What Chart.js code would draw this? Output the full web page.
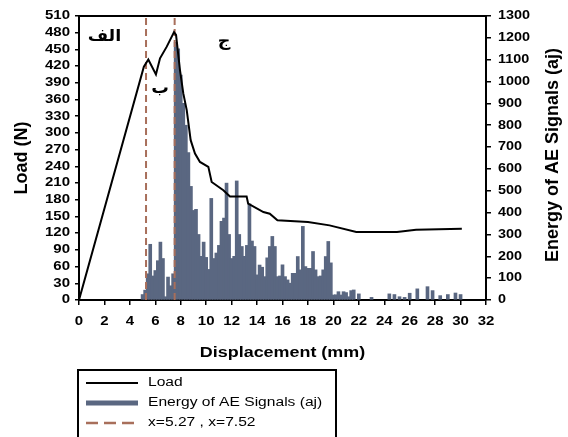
<!DOCTYPE html>
<html>
<head>
<meta charset="utf-8">
<script src="https://cdn.jsdelivr.net/npm/chart.js"></script>
<style>
  body { margin: 0; background: #fff; }
  canvas { display: block; }
</style>
</head>
<body>
<canvas id="aeChart" width="568" height="437"></canvas>

<script>
  // Load curve (displacement mm, load N)
  const loadX = [0, 5.1, 5.45, 6.05, 6.37, 6.9, 7.47, 7.63, 7.94, 8.2, 8.47, 8.78, 9.12, 9.51, 10.17, 10.43,
                 11.35, 11.87, 13.18, 13.3, 14.5, 15.0, 15.6, 18.0, 19.7, 21.8, 25.0, 26.5, 30.1];
  const loadY = [0, 419, 432, 405, 434, 455, 481, 476, 413, 371, 341, 287, 263, 248, 239, 212,
                 197, 186, 186, 173, 158, 155, 143, 140, 134, 122, 122, 126, 128];

  // Energy of AE signals (displacement mm, energy aj)
  const energyX = [5.0, 5.2, 5.4, 5.6, 5.8, 6.0, 6.2, 6.4, 6.6, 6.8, 7.0, 7.2, 7.4,
                   7.6, 7.8, 8.0, 8.2, 8.4, 8.6, 8.8, 9.0, 9.2, 9.4, 9.6, 9.8,
                   10.0, 10.2, 10.4, 10.6, 10.8, 11.0, 11.2, 11.4, 11.6, 11.8,
                   12.0, 12.2, 12.4, 12.6, 12.8, 13.0, 13.2, 13.4, 13.6, 13.8,
                   14.0, 14.2, 14.4, 14.6, 14.8, 15.0, 15.2, 15.4, 15.6, 15.8,
                   16.0, 16.2, 16.4, 16.6, 16.8, 17.0, 17.2, 17.4, 17.6, 17.8,
                   18.0, 18.2, 18.4, 18.6, 18.8, 19.0, 19.2, 19.4, 19.6, 19.8,
                   20.0, 20.2, 20.4, 20.6, 20.8, 21.0, 21.2, 21.4, 21.6, 22.0,
                   23.0, 24.4, 24.8, 25.2, 25.6, 26.0, 26.6, 27.4, 27.8, 28.4, 29.0, 29.6, 30.0];
  const energyY = [25, 45, 120, 255, 110, 135, 180, 265, 190, 15, 105, 65, 120,
                   1180, 1150, 1030, 900, 800, 675, 520, 410, 415, 300, 200, 265,
                   195, 140, 465, 190, 215, 250, 360, 375, 535, 300,
                   190, 200, 545, 300, 245, 200, 250, 440, 270, 245,
                   115, 160, 150, 107, 193, 245, 291, 245, 107, 110,
                   161, 107, 92, 77, 122, 122, 199, 138, 337, 153,
                   145, 145, 222, 138, 107, 110, 138, 199, 268, 170,
                   23, 24, 38, 23, 38, 34, 15, 43, 46, 28,
                   12, 28, 25, 15, 12, 31, 51, 61, 43, 20, 25, 32, 25];

  // vertical markers
  const markerX = [5.27, 7.52];

  // region labels
  const regionText = ["الف", "ب", "ج"];
  const regionX = [2.0, 6.37, 11.4];
  const regionY = [472, 379, 463];

  const xTicks = { min: 0, max: 32, step: 2 };
  const loadTicks = { min: 0, max: 510, step: 30 };
  const energyTicks = { min: 0, max: 1300, step: 100 };

  const BAR_COLOR = "#5a6781";
  const DASH_COLOR = "#a86f5b";

  // text with a horizontal stretch, the source figure is drawn wide
  function wideText(ctx, text, x, y, font, sx, align) {
    ctx.save();
    ctx.translate(x, y);
    ctx.scale(sx, 1);
    ctx.font = font;
    ctx.textAlign = align;
    ctx.textBaseline = "middle";
    ctx.fillStyle = "#000";
    ctx.fillText(text, 0, 0);
    ctx.restore();
  }

  function upText(ctx, text, x, y, font) {
    ctx.save();
    ctx.translate(x, y);
    ctx.rotate(-Math.PI / 2);
    ctx.font = font;
    ctx.textAlign = "center";
    ctx.textBaseline = "middle";
    ctx.fillStyle = "#000";
    ctx.fillText(text, 0, 0);
    ctx.restore();
  }

  const decorPlugin = {
    id: "decor",
    afterDraw(chart) {
      const ctx = chart.ctx;
      const a = chart.chartArea;
      const sx = chart.scales.x, sl = chart.scales.y, sr = chart.scales.y2;
      const tickFont = "bold 12px Arial";

      // top frame line
      ctx.save();
      ctx.strokeStyle = "#000";
      ctx.lineWidth = 2;
      ctx.beginPath();
      ctx.moveTo(a.left, a.top);
      ctx.lineTo(a.right, a.top);
      ctx.stroke();
      ctx.restore();

      // tick labels
      sx.ticks.forEach((t, i) => wideText(ctx, String(t.value), sx.getPixelForTick(i), 322, tickFont, 1.25, "center"));
      sl.ticks.forEach((t, i) => wideText(ctx, String(t.value), 70, sl.getPixelForTick(i), tickFont, 1.25, "right"));
      sr.ticks.forEach((t, i) => wideText(ctx, String(t.value), 498, sr.getPixelForTick(i), tickFont, 1.2, "left"));

      // axis titles
      wideText(ctx, "Displacement (mm)", (a.left + a.right) / 2, 353, "bold 14px Arial", 1.28, "center");
      upText(ctx, "Load (N)", 22, (a.top + a.bottom) / 2, "bold 18px Arial");
      upText(ctx, "Energy of AE Signals (aj)", 553, (a.top + a.bottom) / 2 - 3, "bold 18px Arial");

      // region labels
      regionText.forEach((txt, i) => {
        wideText(ctx, txt, sx.getPixelForValue(regionX[i]), sl.getPixelForValue(regionY[i]),
                 "bold 16px 'DejaVu Sans'", 1.1, "center");
      });

      // legend box
      ctx.save();
      ctx.strokeStyle = "#000";
      ctx.lineWidth = 2;
      ctx.strokeRect(78, 370, 258, 80);
      const rows = [
        { label: "Load", color: "#000", width: 2, dash: [] },
        { label: "Energy of AE Signals (aj)", color: BAR_COLOR, width: 5, dash: [] },
        { label: "x=5.27 , x=7.52", color: DASH_COLOR, width: 2.5, dash: [12, 6] }
      ];
      rows.forEach((r, i) => {
        const y = 383 + i * 20;
        ctx.strokeStyle = r.color;
        ctx.lineWidth = r.width;
        ctx.setLineDash(r.dash);
        ctx.beginPath();
        ctx.moveTo(86, y);
        ctx.lineTo(138, y);
        ctx.stroke();
        ctx.setLineDash([]);
        wideText(ctx, r.label, 148, y, "12px Arial", 1.3, "left");
      });
      ctx.restore();
    }
  };

  const energyData = energyX.map((x, i) => ({ x: x, y: energyY[i] }));
  const loadData = loadX.map((x, i) => ({ x: x, y: loadY[i] }));

  const markerSets = markerX.map(x => ({
    type: "line",
    data: [{ x: x, y: loadTicks.min }, { x: x, y: loadTicks.max }],
    yAxisID: "y",
    borderColor: DASH_COLOR,
    borderWidth: 2,
    borderDash: [7, 4],
    pointRadius: 0,
    order: 1
  }));

  const axisGrid = { drawOnChartArea: false, drawTicks: true, color: "#000", lineWidth: 1.5 };

  new Chart(document.getElementById("aeChart").getContext("2d"), {
    type: "bar",
    data: {
      datasets: [
        {
          type: "line",
          label: "Load",
          data: loadData,
          yAxisID: "y",
          borderColor: "#000",
          borderWidth: 2,
          pointRadius: 0,
          tension: 0,
          order: 0
        },
        ...markerSets,
        {
          type: "bar",
          label: "Energy of AE Signals (aj)",
          data: energyData,
          yAxisID: "y2",
          backgroundColor: BAR_COLOR,
          borderWidth: 0,
          barThickness: 3,   // slight overlap so no seams between 0.2 mm bins
          order: 2
        }
      ]
    },
    options: {
      responsive: false,
      animation: false,
      layout: { padding: { top: 16, left: 0, right: 0, bottom: 0 } },
      plugins: { legend: { display: false }, tooltip: { enabled: false } },
      scales: {
        x: {
          type: "linear",
          min: xTicks.min, max: xTicks.max,
          offset: false,
          ticks: { stepSize: xTicks.step, display: false },
          grid: { ...axisGrid, offset: false, tickLength: 5 },
          border: { display: true, color: "#000", width: 2 },
          afterFit(s) { s.height = 137; }
        },
        y: {
          position: "left",
          min: loadTicks.min, max: loadTicks.max,
          ticks: { stepSize: loadTicks.step, display: false },
          grid: { ...axisGrid, tickLength: 4 },
          border: { display: true, color: "#000", width: 2 },
          afterFit(s) { s.width = 79; }
        },
        y2: {
          position: "right",
          min: energyTicks.min, max: energyTicks.max,
          ticks: { stepSize: energyTicks.step, display: false },
          grid: { ...axisGrid, tickLength: 5 },
          border: { display: true, color: "#000", width: 2 },
          afterFit(s) { s.width = 82; }
        }
      }
    },
    plugins: [decorPlugin]
  });
</script>
</body>
</html>
